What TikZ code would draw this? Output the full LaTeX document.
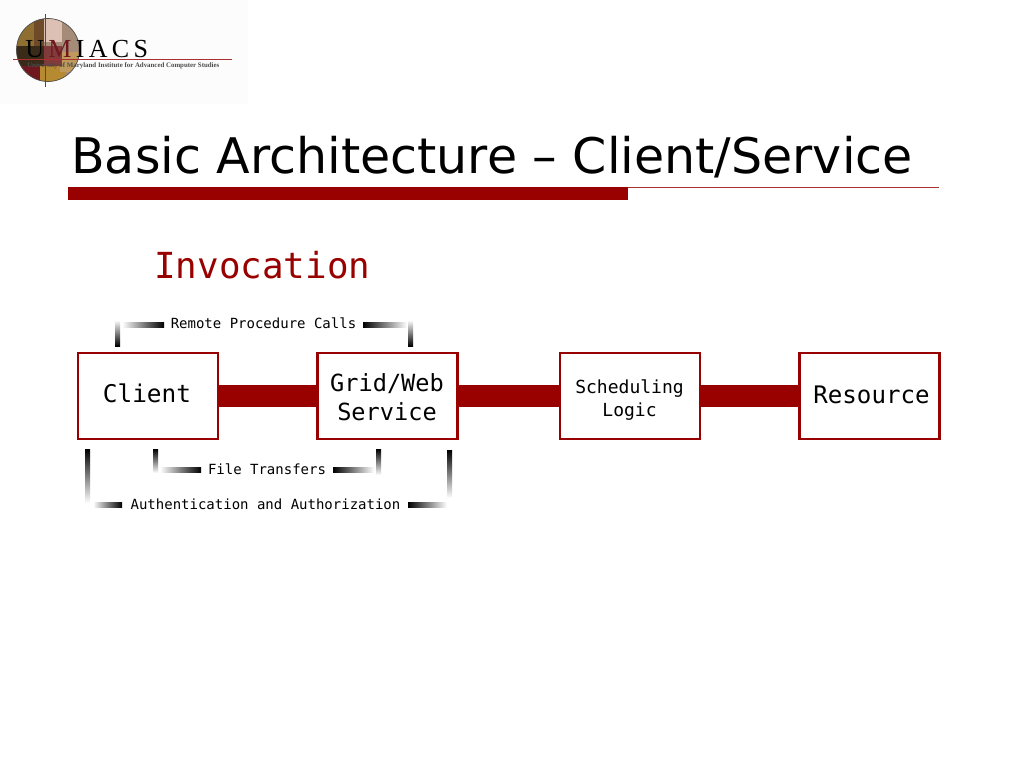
\documentclass[tikz,border=0pt]{standalone}
\usepackage{fontspec}
\setmainfont{DejaVu Sans}
\setmonofont{DejaVu Sans Mono}
\newfontfamily\logofont{Liberation Serif}
\usetikzlibrary{calc}
\definecolor{umred}{HTML}{990000}
\definecolor{umline}{HTML}{A83030}
\definecolor{lgochre}{HTML}{8F6E32}
\definecolor{lgdark}{HTML}{3A2A18}
\definecolor{lgmaroon}{HTML}{701820}
\definecolor{lggold}{HTML}{B58A30}
\definecolor{lgtaupe}{HTML}{A58C78}
\definecolor{lgpink}{HTML}{DCC0B4}
\definecolor{lgbrown}{HTML}{6E4A28}
\definecolor{lgsand}{HTML}{C09A5C}
\tikzset{
  x=0.75pt,y=-0.75pt,
  boxnode/.style={draw=umred,line width=1.65pt,fill=white,minimum width=105pt,minimum height=65pt,inner sep=0pt},
  boxtext/.style={align=center,inner sep=0pt,text=black,font=\ttfamily\fontsize{17.7}{21.75}\selectfont},
  wire/.style={umred,line width=16.5pt},
  lab/.style={font=\ttfamily\fontsize{10.5}{12}\selectfont,text=black,inner sep=0pt,anchor=center},
  fadeleft/.style={left color=white,middle color=black!75,right color=black},
  faderight/.style={left color=black,middle color=black!75,right color=white},
  fadetop/.style={top color=white,middle color=black!75,bottom color=black},
  fadebottom/.style={top color=black,middle color=black!75,bottom color=white},
}
\begin{document}
\begin{tikzpicture}
\useasboundingbox (0,0) rectangle (1024,768);
\fill[white] (0,0) rectangle (1024,768);
% logo
\fill[black!1] (0,0) rectangle (248,104);
\begin{scope}
\clip (48,50) circle (31.5);
\fill[lgtaupe] (16,18) rectangle (80,82);
\fill[lgochre] (16,18) rectangle (34,46);
\fill[lgbrown] (34,18) rectangle (44,46);
\fill[lgdark] (16,46) rectangle (44,66);
\fill[lgmaroon] (16,66) rectangle (40,82);
\fill[lggold] (40,66) rectangle (66,82);
\fill[lgsand] (60,52) rectangle (80,72);
\fill[lgpink] (44,18) rectangle (80,42);
\fill[lgtaupe] (62,22) rectangle (80,42);
\fill[lgmaroon!70!lgtaupe] (44,46) rectangle (62,66);
\end{scope}
\draw[black!70,line width=0.5pt] (48,50) circle (31.5);
\fill[black!70] (45,14) rectangle (46,87);
\fill[umline] (13,59) rectangle (232,60);
\node[font=\logofont\fontsize{19.5}{20}\selectfont,text=black,inner sep=0pt,anchor=base west] (logoname) at (25,57.5) {U\,\textcolor{lgmaroon}{M}\,I\,A\,C\,S};
\node[font=\logofont\bfseries\fontsize{5.15}{6}\selectfont,text=black!70,inner sep=0pt,anchor=base west] (logosub) at (27,67) {University of Maryland Institute for Advanced Computer Studies};
% title
\node[font=\fontsize{36.8}{40}\selectfont,text=black,inner sep=0pt,anchor=base west] (title) at (71,173) {Basic Architecture – Client/Service};
\fill[umred] (68,187) rectangle (628,200);
\fill[umline] (628,187) rectangle (939,188);
\node[font=\ttfamily\fontsize{26.9}{30}\selectfont,text=umred,inner sep=0pt,anchor=base west] (inv) at (154,278) {Invocation};
% boxes
\node[boxnode] (client) at (148,396) {};
\node[boxnode] (grid) at (387.5,396) {};
\node[boxnode] (sched) at (630,396) {};
\node[boxnode] (res) at (869.5,396) {};
\node[boxtext,font=\ttfamily\fontsize{18.3}{22}\selectfont] at (147,393.5) {Client};
\node[boxtext] at (387,397.5) {Grid/Web\\Service};
\node[boxtext,font=\ttfamily\fontsize{13.5}{16.6}\selectfont] at (629.5,400) {Scheduling\\Logic};
\node[boxtext,font=\ttfamily\fontsize{18.1}{22}\selectfont] at (871.5,394.5) {Resource};
% wires
\draw[wire] (client.east) -- (grid.west);
\draw[wire] (grid.east) -- (sched.west);
\draw[wire] (sched.east) -- (res.west);
% labels
\node[lab] (rpc) at (263.5,323) {Remote Procedure Calls};
\node[lab] (ft) at (267,469) {File Transfers};
\node[lab] (aa) at (265.5,504) {Authentication and Authorization};
% bracket gradients
\shade[fadeleft] (122,322) rectangle (164,327);
\shade[faderight] (363,322) rectangle (407,327);
\shade[fadetop] (115,320) rectangle (120,346);
\shade[fadetop] (408,320) rectangle (413,346);
\shade[fadebottom] (153,449) rectangle (158,473);
\shade[fadeleft] (160,467) rectangle (201,472);
\shade[faderight] (333,467) rectangle (374,472);
\shade[fadebottom] (376,449) rectangle (381,475);
\shade[fadebottom] (85,449) rectangle (90,503);
\shade[fadeleft] (93,502) rectangle (122,507);
\shade[faderight] (408,502) rectangle (447,507);
\shade[top color=black,middle color=black,bottom color=white] (447,450) rectangle (452,498);
\end{tikzpicture}
\end{document}
